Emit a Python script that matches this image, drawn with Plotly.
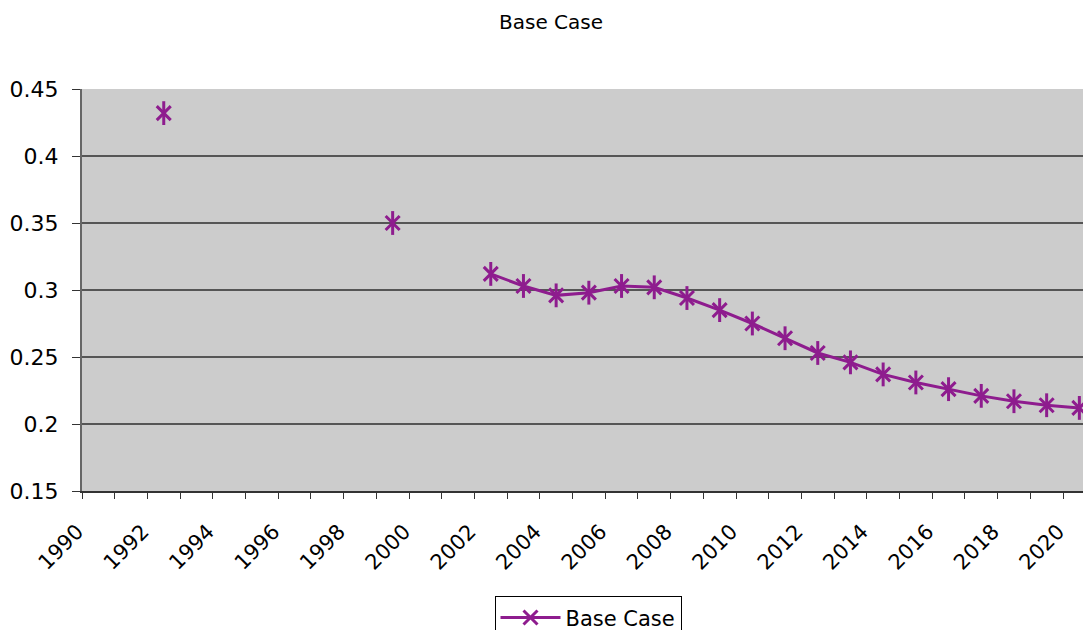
import plotly.graph_objects as go

# categories (years) and series values, None = no data for that year
years = list(range(1990, 2021))
base_case = [None, None, 0.432, None, None, None, None, None, None, 0.350,
             None, None, 0.312, 0.303, 0.296, 0.298, 0.303, 0.302, 0.294, 0.285,
             0.275, 0.264, 0.253, 0.246, 0.237, 0.231, 0.226, 0.221, 0.217, 0.214,
             0.212]

x_labels = [str(y) for y in range(1990, 2021, 2)]
y_ticks = [0.15, 0.2, 0.25, 0.3, 0.35, 0.4, 0.45]
y_labels = ['0.15', '0.2', '0.25', '0.3', '0.35', '0.4', '0.45']

purple = '#8E1C8E'
font_name = 'DejaVu Sans'

fig = go.Figure()
# line + X part of the star marker
fig.add_trace(go.Scatter(
    x=years, y=base_case, name='Base Case', mode='lines+markers',
    connectgaps=False,
    line=dict(color=purple, width=3),
    marker=dict(symbol='x-thin-open', size=14, color=purple,
                line=dict(color=purple, width=3)),
))
# vertical bar of the star marker
fig.add_trace(go.Scatter(
    x=years, y=base_case, mode='markers', showlegend=False, hoverinfo='skip',
    marker=dict(symbol='line-ns-open', size=17, color=purple,
                line=dict(color=purple, width=3)),
))

# page body has an 8px margin; plot area runs past the right edge like the original
W, H = 1091, 622
fig.update_layout(
    width=W, height=H,
    margin=dict(l=74, r=0, t=81, b=139, autoexpand=False),
    paper_bgcolor='white', plot_bgcolor='#CCCCCC',
    font=dict(family=font_name, size=21, color='black'),
    title=dict(text='Base Case', x=(551 - 8) / W, xanchor='center', xref='container',
               y=1 - 14 / H, yanchor='middle', yref='container',
               font=dict(family=font_name, size=20, color='black')),
    showlegend=True,
    legend=dict(orientation='h', x=(580 - 74) / (W - 74), xanchor='center',
                y=-0.262, yanchor='top', bgcolor='white', bordercolor='black',
                borderwidth=1, itemwidth=60, font=dict(size=21)),
)

fig.update_xaxes(
    range=[1989.5, 1989.5 + (W - 74) / 32.7], tickvals=list(range(1990, 2021, 2)),
    ticktext=x_labels,
    tickangle=-45, ticks='outside', ticklen=0, showgrid=False, zeroline=False,
    ticklabelshift=-21, ticklabelstandoff=18, tickfont=dict(size=21),
    showline=True, linecolor='#333333', linewidth=2,
    minor=dict(tick0=1989.5, dtick=1, ticks='outside', ticklen=6,
               tickcolor='#333333', tickwidth=1, showgrid=False),
)
fig.update_yaxes(
    range=[0.15, 0.45], tickvals=y_ticks, ticktext=y_labels,
    ticks='outside', ticklen=8, tickcolor='#333333', ticklabelstandoff=9,
    tickfont=dict(size=22),
    showgrid=True, gridcolor='#555555', gridwidth=1.5, zeroline=False,
    showline=True, linecolor='#666666', linewidth=2,
)

fig.write_html("out.html")
